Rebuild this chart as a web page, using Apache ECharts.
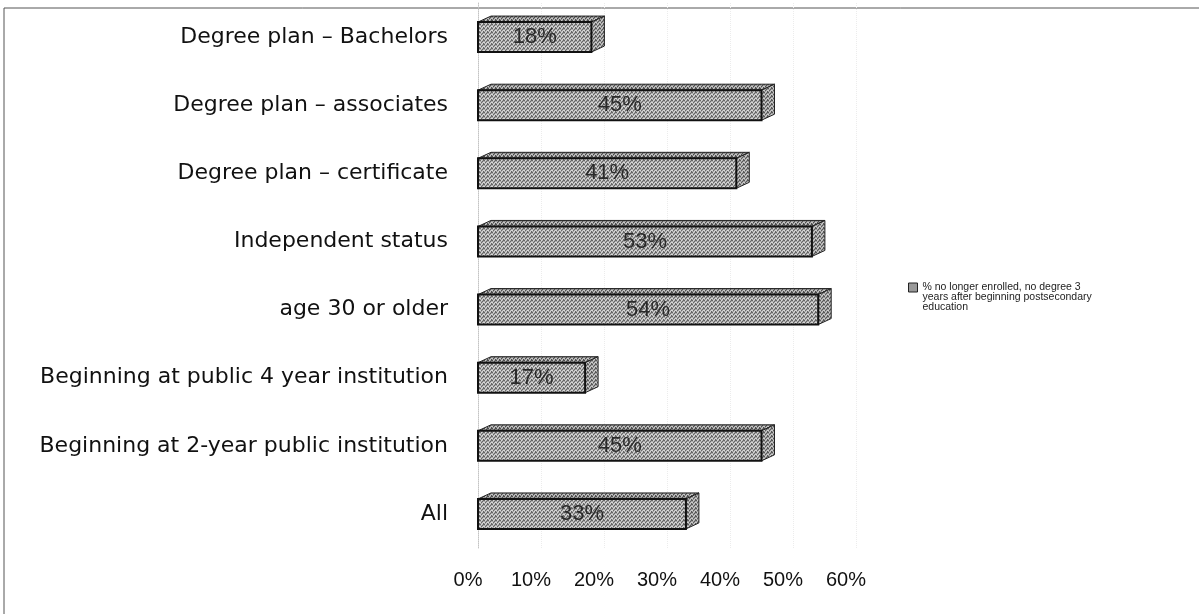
<!DOCTYPE html>
<html>
<head>
<meta charset="utf-8">
<script src="https://cdn.jsdelivr.net/npm/echarts@6/dist/echarts.min.js"></script>
<style>
  html, body { margin: 0; padding: 0; background: #fff; }
  #chart { width: 1199px; height: 614px; }
</style>
</head>
<body>
<div id="chart"></div>
<script>
// data
const categories = [
  'Degree plan – Bachelors',
  'Degree plan – associates',
  'Degree plan – certificate',
  'Independent status',
  'age 30 or older',
  'Beginning at public 4 year institution',
  'Beginning at 2-year public institution',
  'All'
]
const values = [18, 45, 41, 53, 54, 17, 45, 33]
const seriesName = '% no longer enrolled, no degree 3\nyears after beginning postsecondary\neducation'

const chart = echarts.init(document.getElementById('chart'))
const font = 'Liberation Sans, Arial, sans-serif'

// small stipple tile so the bars look like the old grey print fill
const makePattern = (base, dark, light) => {
  const c = document.createElement('canvas')
  c.width = 4
  c.height = 4
  const ctx = c.getContext('2d')
  ctx.fillStyle = base
  ctx.fillRect(0, 0, 4, 4)
  ctx.fillStyle = dark
  ;[[0, 0], [2, 1], [1, 2], [3, 3], [3, 0]].forEach(p => ctx.fillRect(p[0], p[1], 1, 1))
  ctx.fillStyle = light
  ;[[1, 0], [0, 2], [2, 3], [3, 2]].forEach(p => ctx.fillRect(p[0], p[1], 1, 1))
  return { image: c, repeat: 'repeat' }
}
const frontFill = makePattern('#acacac', '#666666', '#d8d8d8')
const topFill = makePattern('#969696', '#4c4c4c', '#c6c6c6')
const sideFill = makePattern('#a0a0a0', '#585858', '#cccccc')

// 3d-ish bar: front face, top face and right side
const renderBar = (params, api) => {
  const idx = api.value(1)
  const start = api.coord([0, idx])
  const end = api.coord([api.value(0), idx])
  const bandH = api.size([0, 1])[1]
  const h = bandH * 0.44
  const dx = 13
  const dy = 6
  const x0 = start[0]
  const x1 = end[0]
  const yTop = end[1] - h / 2
  const yBot = end[1] + h / 2
  return {
    type: 'group',
    children: [
      {
        type: 'polygon',
        shape: { points: [[x0, yTop], [x0 + dx, yTop - dy], [x1 + dx, yTop - dy], [x1, yTop]] },
        style: { fill: topFill, stroke: '#222', lineWidth: 1 }
      },
      {
        type: 'polygon',
        shape: { points: [[x1, yTop], [x1 + dx, yTop - dy], [x1 + dx, yBot - dy], [x1, yBot]] },
        style: { fill: sideFill, stroke: '#222', lineWidth: 1 }
      },
      {
        type: 'rect',
        shape: { x: x0, y: yTop, width: x1 - x0, height: h },
        style: { fill: frontFill, stroke: '#111', lineWidth: 2 }
      },
      {
        type: 'text',
        x: (x0 + x1) / 2,
        y: end[1],
        style: {
          text: api.value(0) + '%',
          align: 'center',
          verticalAlign: 'middle',
          fill: '#2a2a2a',
          font: '22px ' + font
        }
      }
    ]
  }
}

const option = {
  backgroundColor: '#fff',
  animation: false,
  grid: { left: 478, right: 343, top: 3, bottom: 66 },
  legend: {
    left: 903,
    top: 257,
    orient: 'vertical',
    icon: 'rect',
    itemWidth: 9,
    itemHeight: 9,
    itemGap: 4,
    itemStyle: { color: '#999', borderColor: '#222', borderWidth: 1 },
    formatter: name => '\n\n' + name,
    textStyle: {
      fontFamily: font,
      fontSize: 10.5,
      lineHeight: 10,
      color: '#222'
    },
    data: [seriesName]
  },
  xAxis: {
    type: 'value',
    min: 0,
    max: 60,
    interval: 10,
    axisLine: { show: false },
    axisTick: { show: false },
    splitLine: { show: true, lineStyle: { color: '#ececec', type: 'dotted' } },
    axisLabel: {
      formatter: '{value}%',
      margin: 22,
      color: '#111',
      fontFamily: font,
      fontSize: 20,
      padding: [0, 20, 0, 0]
    }
  },
  yAxis: {
    type: 'category',
    inverse: true,
    data: categories,
    offset: 8,
    axisLine: { show: true, lineStyle: { color: '#c4c4c4', type: 'dotted' } },
    axisTick: { show: false },
    axisLabel: {
      margin: 22,
      color: '#111',
      fontFamily: 'DejaVu Sans, sans-serif',
      fontSize: 22
    }
  },
  series: [
    {
      name: seriesName,
      type: 'custom',
      renderItem: renderBar,
      itemStyle: { color: '#999' },
      encode: { x: 0, y: 1 },
      data: values.map((v, i) => [v, i])
    }
  ],
  graphic: [
    { type: 'line', shape: { x1: 4, y1: 8, x2: 1199, y2: 8 }, style: { stroke: '#555', lineWidth: 1 } },
    { type: 'line', shape: { x1: 4, y1: 8, x2: 4, y2: 614 }, style: { stroke: '#555', lineWidth: 1 } }
  ]
}

chart.setOption(option)
</script>
</body>
</html>
